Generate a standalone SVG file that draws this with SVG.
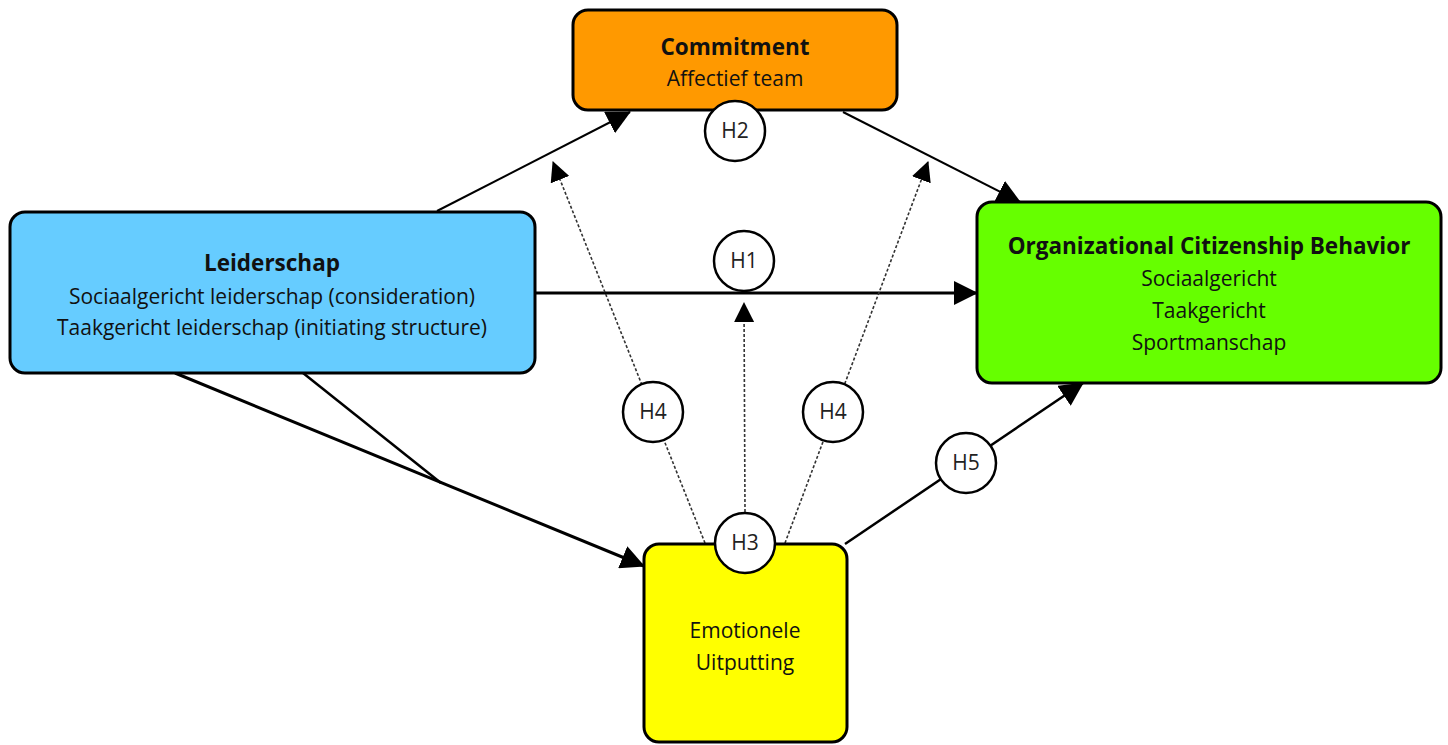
<svg xmlns="http://www.w3.org/2000/svg" width="1448" height="745" viewBox="0 0 1448 745">
<style>
.box{stroke:#000;stroke-width:3}
.t{font-family:"Open Sans","Noto Sans","Liberation Sans",sans-serif;font-size:21px;fill:#111;text-anchor:middle}
.b{font-weight:bold;font-size:22.5px}
.ln{stroke:#000;fill:none}
.dot{stroke:#333;stroke-width:1.6;stroke-dasharray:3 2;fill:none}
.lab circle{fill:#fff;stroke:#000;stroke-width:2.5}
.lab text{font-family:"Open Sans","Noto Sans","Liberation Sans",sans-serif;font-size:21px;fill:#222;text-anchor:middle}
</style>
<defs>
<marker id="ah" markerUnits="userSpaceOnUse" markerWidth="24" markerHeight="24" refX="23" refY="12" orient="auto" viewBox="0 0 24 24"><path d="M0,0 L24,12 L0,24 z" fill="#000"/></marker>
<marker id="ahs" markerUnits="userSpaceOnUse" markerWidth="20" markerHeight="20" refX="19" refY="10" orient="auto" viewBox="0 0 20 20"><path d="M0,0 L20,10 L0,20 z" fill="#000"/></marker>
</defs>
<rect width="1448" height="745" fill="#fff"/>
<g id="connectors">
<line class="ln" stroke-width="2" x1="437" y1="211" x2="630" y2="112" marker-end="url(#ah)"/>
<line class="ln" stroke-width="2" x1="843" y1="112" x2="1020" y2="202" marker-end="url(#ah)"/>
<line class="ln" stroke-width="3" x1="535" y1="293" x2="977" y2="293" marker-end="url(#ah)"/>
<line class="ln" stroke-width="3" x1="175" y1="373" x2="644" y2="566" marker-end="url(#ah)"/>
<line class="ln" stroke-width="2.5" x1="303" y1="373" x2="441" y2="483"/>
<line class="ln" stroke-width="2.5" x1="845" y1="544" x2="1083" y2="383" marker-end="url(#ah)"/>
<line class="dot" x1="705" y1="543" x2="553" y2="162" marker-end="url(#ahs)"/>
<line class="dot" x1="745" y1="512" x2="744" y2="303" marker-end="url(#ahs)"/>
<line class="dot" x1="785" y1="543" x2="928" y2="162" marker-end="url(#ahs)"/>
</g>
<g id="commitment">
<rect class="box" x="573" y="10" width="324" height="100" rx="15" fill="#FF9900"/>
<text class="t b" x="735" y="55">Commitment</text>
<text class="t" x="735" y="86">Affectief team</text>
</g>
<g id="leiderschap">
<rect class="box" x="10" y="212" width="525" height="161" rx="15" fill="#66CCFF"/>
<text class="t b" x="272" y="271">Leiderschap</text>
<text class="t" x="272" y="304">Sociaalgericht leiderschap (consideration)</text>
<text class="t" x="272" y="335">Taakgericht leiderschap (initiating structure)</text>
</g>
<g id="ocb">
<rect class="box" x="977" y="202" width="464" height="181" rx="15" fill="#66FF00"/>
<text class="t b" x="1209" y="254">Organizational Citizenship Behavior</text>
<text class="t" x="1209" y="286">Sociaalgericht</text>
<text class="t" x="1209" y="318">Taakgericht</text>
<text class="t" x="1209" y="350">Sportmanschap</text>
</g>
<g id="emotionele">
<rect class="box" x="644" y="544" width="203" height="198" rx="15" fill="#FFFF00"/>
<text class="t" x="745" y="638">Emotionele</text>
<text class="t" x="745" y="670">Uitputting</text>
</g>
<g id="labels" class="lab">
<g id="h2"><circle cx="735" cy="131" r="30"/><text x="735" y="138">H2</text></g>
<g id="h1"><circle cx="744" cy="261" r="30"/><text x="744" y="268">H1</text></g>
<g id="h4a"><circle cx="653" cy="412" r="30"/><text x="653" y="419">H4</text></g>
<g id="h4b"><circle cx="833" cy="412" r="30"/><text x="833" y="419">H4</text></g>
<g id="h3"><circle cx="745" cy="543" r="30"/><text x="745" y="550">H3</text></g>
<g id="h5"><circle cx="966" cy="463" r="30"/><text x="966" y="470">H5</text></g>
</g>
</svg>
